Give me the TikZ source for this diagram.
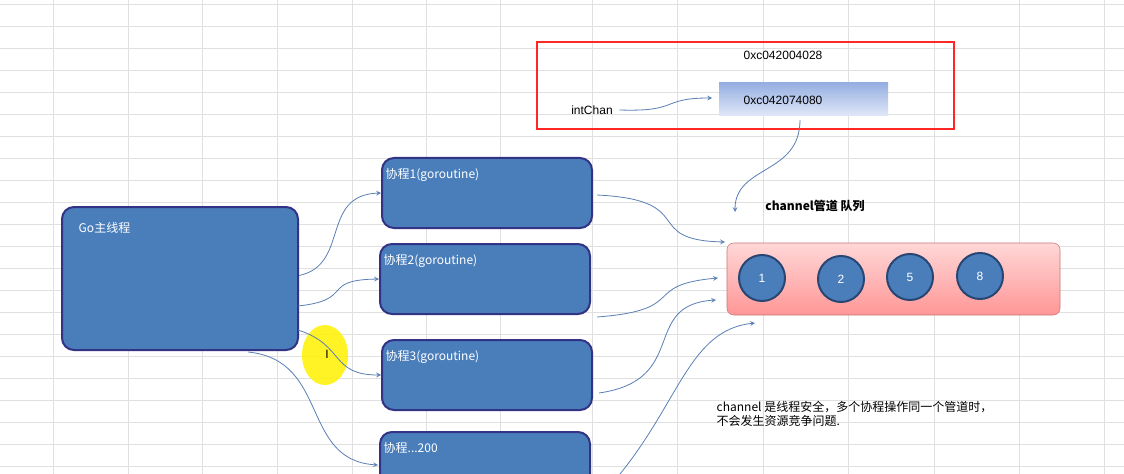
\documentclass[tikz,border=0pt]{standalone}
\usepackage{fontspec}
\setmainfont{Liberation Sans}
\newfontfamily\cjk{Noto Sans CJK SC}
\begin{document}
\begin{tikzpicture}[x=0.75pt,y=-0.75pt,
  gr/.style={draw=black!12,line width=0.6pt},
  blk/.style={draw=blue!40!black!80,line width=1.5pt,fill={rgb,255:red,74;green,126;blue,187},rounded corners=9pt,inner sep=0pt},
  lbl/.style={text=white,font=\cjk\small,anchor=north west},
  arr/.style={draw={rgb,255:red,90;green,127;blue,181},line width=0.6pt,->,>=stealth},
  ball/.style={circle,draw={rgb,255:red,40;green,70;blue,115},line width=1.5pt,fill={rgb,255:red,74;green,126;blue,187},minimum size=46pt*0.75,text=white,font=\small}]
\useasboundingbox (0,0) rectangle (1124,474);
\fill[white] (0,0) rectangle (1124,474);
\foreach \y in {4,26,...,474} \draw[gr] (0,\y) -- (1124,\y);
\foreach \x in {53,128,202,277,352,426,500,592,677,763,848,934,1019,1104} \draw[gr] (\x,0) -- (\x,474);
% main nodes
\node[blk,minimum width=236*0.75pt,minimum height=143*0.75pt] (go) at (180,278.5) {};
\node[lbl] at (74,218) {Go主线程};
\node[blk,minimum width=210*0.75pt,minimum height=70*0.75pt] (g1) at (487,193) {};
\node[lbl] at (g1.north west) [xshift=0pt,yshift=-5pt] {协程1(goroutine)};
\node[blk,minimum width=210*0.75pt,minimum height=70*0.75pt] (g2) at (485,279) {};
\node[lbl] at (g2.north west) [yshift=-5pt] {协程2(goroutine)};
\node[blk,minimum width=210*0.75pt,minimum height=70*0.75pt] (g3) at (487,375) {};
\node[lbl] at (g3.north west) [yshift=-5pt] {协程3(goroutine)};
\node[blk,minimum width=210*0.75pt,minimum height=70*0.75pt] (g4) at (485,467) {};
\node[lbl] at (g4.north west) [yshift=-5pt] {协程...200};
% highlight
\fill[yellow,opacity=0.85] (325,355) ellipse (23 and 30);
\node[font=\small] (cur) at (327,354) {I};
% red box
\draw[red!85,line width=1.5pt] (537,42) rectangle (954,129);
\node[font=\small] (a1) at (783,55) {0xc042004028};
\shade[top color={rgb,255:red,150;green,175;blue,225},bottom color={rgb,255:red,225;green,232;blue,248}] (719,83) rectangle (888,116);
\node[font=\small] (a2) at (783,100) {0xc042074080};
\coordinate (a2w) at (712,98);
\coordinate (a2s) at (800,120);
\node[font=\small] (ic) at (592,110) {intChan};
\node[font=\cjk\small\bfseries] (ch) at (815,206) {channel管道 队列};
% queue
\shade[top color={rgb,255:red,255;green,215;blue,215},bottom color={rgb,255:red,255;green,150;blue,150},draw={rgb,255:red,200;green,120;blue,120},rounded corners=5pt] (727,243) rectangle (1060,315);
\coordinate (q) at (727,243);
\node[ball] (b1) at (762,278) {1};
\node[ball] (b2) at (841,279) {2};
\node[ball] (b5) at (910,277) {5};
\node[ball] (b8) at (980,276) {8};
\node[font=\cjk\small,anchor=west,align=left] (note) at (712,414) {channel 是线程安全，多个协程操作同一个管道时，\\不会发生资源竞争问题.};
% arrows
\draw[arr] (ic.east) ++(2,0) .. controls (680,112) and (660,98) .. (a2w);
\draw[arr] (a2s) .. controls (800,175) and (735,165) .. (735,212);
\draw[arr] (go.east) ++(0,-3) .. controls (350,265) and (320,195) .. (g1.west);
\draw[arr] (298,306) .. controls (355,300) and (320,280) .. (g2.west);
\draw[arr] (298,330) .. controls (345,345) and (330,375) .. (g3.west);
\draw[arr] (248,352) .. controls (330,360) and (300,460) .. (378,465);
\draw[arr] (g1.east) ++(4,2) .. controls (700,200) and (640,240) .. (725,242);
\draw[arr] (g2.east) ++(6,38) .. controls (690,310) and (640,285) .. (718,278);
\draw[arr] (g3.east) ++(6,18) .. controls (690,380) and (640,305) .. (716,300);
\draw[arr] (620,474) .. controls (680,400) and (690,330) .. (755,323);
\end{tikzpicture}
\end{document}
